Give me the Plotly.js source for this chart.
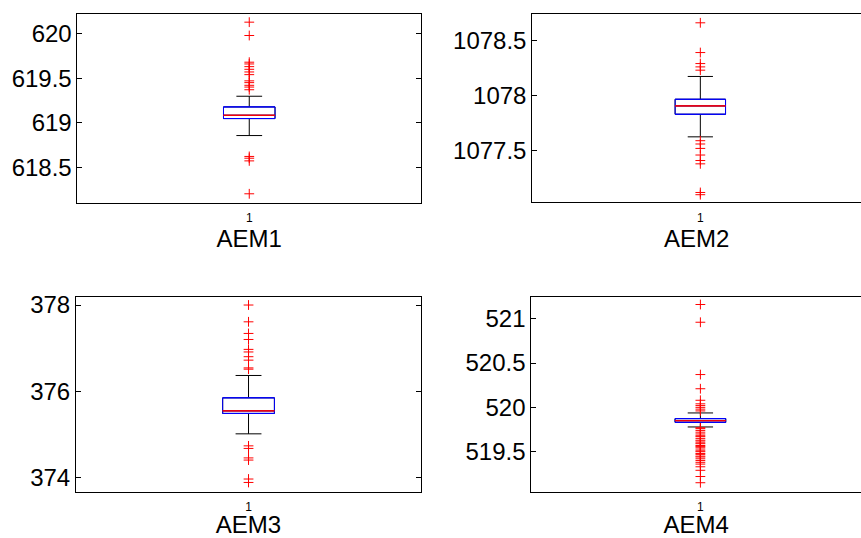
<!DOCTYPE html>
<html>
<head>
<meta charset="utf-8">
<script src="https://cdn.plot.ly/plotly-3.0.1.min.js"></script>
<style>html,body{margin:0;padding:0;background:#fff;}#chart{width:861px;height:538px;}</style>
</head>
<body>
<div id="chart"></div>
<script>
// ---- data ----
var names = ['AEM1', 'AEM2', 'AEM3', 'AEM4'];
var q1Vals = [619.046, 1077.830, 375.483, 519.831];
var medianVals = [619.083, 1077.906, 375.543, 519.850];
var q3Vals = [619.177, 1077.966, 375.845, 519.873];
var lowerWhisker = [618.855, 1077.625, 375.009, 519.779];
var upperWhisker = [619.297, 1078.173, 376.364, 519.937];
var outliersAEM1 = [620.13, 619.98, 619.68, 619.66, 619.63, 619.60, 619.57, 619.54, 619.47, 619.45, 619.42, 619.40, 619.37, 618.62, 618.60, 618.57, 618.20];
var outliersAEM2 = [1078.66, 1078.39, 1078.29, 1078.26, 1078.23, 1077.59, 1077.56, 1077.52, 1077.46, 1077.41, 1077.38, 1077.12, 1077.10];
var outliersAEM3 = [378.00, 377.61, 377.34, 377.20, 376.97, 376.91, 376.80, 376.72, 376.54, 376.51, 374.73, 374.67, 374.45, 374.40, 373.96, 373.88];
var outliersAEM4 = [521.16, 520.96, 520.37, 520.21, 520.08, 520.04, 520.02, 520.00, 519.98, 519.96,
  519.77, 519.76, 519.74, 519.72, 519.70, 519.68, 519.67, 519.65, 519.63, 519.62, 519.60, 519.59,
  519.57, 519.56, 519.55, 519.53, 519.51, 519.50, 519.48, 519.47, 519.45, 519.44, 519.42, 519.40,
  519.38, 519.36, 519.33, 519.29, 519.22, 519.15];
var yTicksAEM1 = [618.5, 619, 619.5, 620];
var yTicksAEM2 = [1077.5, 1078, 1078.5];
var yTicksAEM3 = [374, 376, 378];
var yTicksAEM4 = [519.5, 520, 520.5, 521];
var xTickLabels = ['1'];

// ---- layout / styling ----
var outliers = [outliersAEM1, outliersAEM2, outliersAEM3, outliersAEM4];
var yTicks = [yTicksAEM1, yTicksAEM2, yTicksAEM3, yTicksAEM4];
var yRanges = [[618.102, 620.222], [1077.031, 1078.74], [373.666, 378.193], [519.049, 521.248]];
var xRanges = [[0.5, 1.5], [0.5, 1.478], [0.5, 1.5], [0.5, 1.475]];
var xDomains = [[0.0900, 0.4890], [0.6182, 1.0], [0.0883, 0.4890], [0.6171, 1.0]];
var yDomains = [[0.6236, 0.9740], [0.6240, 0.9740], [0.0861, 0.4485], [0.0861, 0.4485]];
var rightEdgeVisible = [true, false, true, false];
var FONT = 'Liberation Sans, Arial, Helvetica, sans-serif';
var BOXW = 0.15;

var traces = [];
var layout = {
  width: 861, height: 538,
  margin: {l: 0, r: 0, t: 0, b: 0},
  paper_bgcolor: '#fff', plot_bgcolor: '#fff',
  showlegend: false,
  font: {family: FONT, color: '#000'}
};

for (var i = 0; i < 4; i++) {
  var sfx = i === 0 ? '' : String(i + 1);
  var xa = 'x' + sfx, ya = 'y' + sfx;
  // whiskers (black)
  traces.push({
    type: 'box', xaxis: xa, yaxis: ya, x: [1],
    q1: [q1Vals[i]], median: [medianVals[i]], q3: [q3Vals[i]],
    lowerfence: [lowerWhisker[i]], upperfence: [upperWhisker[i]],
    width: BOXW, whiskerwidth: 0.5, boxpoints: false,
    line: {color: '#000', width: 1}, fillcolor: 'rgba(0,0,0,0)', hoverinfo: 'skip'
  });
  // box (blue)
  traces.push({
    type: 'box', xaxis: xa, yaxis: ya, x: [1],
    q1: [q1Vals[i]], median: [medianVals[i]], q3: [q3Vals[i]],
    lowerfence: [q1Vals[i]], upperfence: [q3Vals[i]],
    width: BOXW, whiskerwidth: 1, boxpoints: false,
    line: {color: '#0000ff', width: 1}, fillcolor: 'rgba(0,0,0,0)', hoverinfo: 'skip'
  });
  // median (red)
  traces.push({
    type: 'box', xaxis: xa, yaxis: ya, x: [1],
    q1: [medianVals[i]], median: [medianVals[i]], q3: [medianVals[i]],
    lowerfence: [medianVals[i]], upperfence: [medianVals[i]],
    width: BOXW, whiskerwidth: 0, boxpoints: false,
    line: {color: '#ff0000', width: 0.8}, fillcolor: 'rgba(0,0,0,0)', hoverinfo: 'skip'
  });
  // outliers
  traces.push({
    type: 'scatter', mode: 'markers', xaxis: xa, yaxis: ya,
    x: outliers[i].map(function () { return 1; }), y: outliers[i],
    marker: {symbol: 'cross-thin', size: 7, color: '#ff0000', line: {color: '#ff0000', width: 1}},
    hoverinfo: 'skip'
  });

  layout['xaxis' + sfx] = {
    domain: xDomains[i], anchor: ya, range: xRanges[i],
    tickmode: 'array', tickvals: [1], ticktext: xTickLabels,
    ticks: '', showgrid: false, zeroline: false,
    showline: true, mirror: true, linecolor: '#000', linewidth: 1,
    tickfont: {family: FONT, size: 12, color: '#000'},
    ticklabelstandoff: 4,
    title: {text: names[i], font: {family: FONT, size: 24, color: '#000'}, standoff: 3},
    fixedrange: true
  };
  layout['yaxis' + sfx] = {
    domain: yDomains[i], anchor: xa, range: yRanges[i],
    tickmode: 'array', tickvals: yTicks[i], ticktext: yTicks[i].map(String),
    ticks: 'inside', ticklen: 5, tickcolor: '#000', tickwidth: 1,
    showgrid: false, zeroline: false,
    showline: true, mirror: rightEdgeVisible[i] ? 'ticks' : false,
    linecolor: '#000', linewidth: 1,
    tickfont: {family: FONT, size: 24, color: '#000'},
    fixedrange: true
  };
}

Plotly.newPlot('chart', traces, layout, {staticPlot: true, displayModeBar: false});
</script>
</body>
</html>
